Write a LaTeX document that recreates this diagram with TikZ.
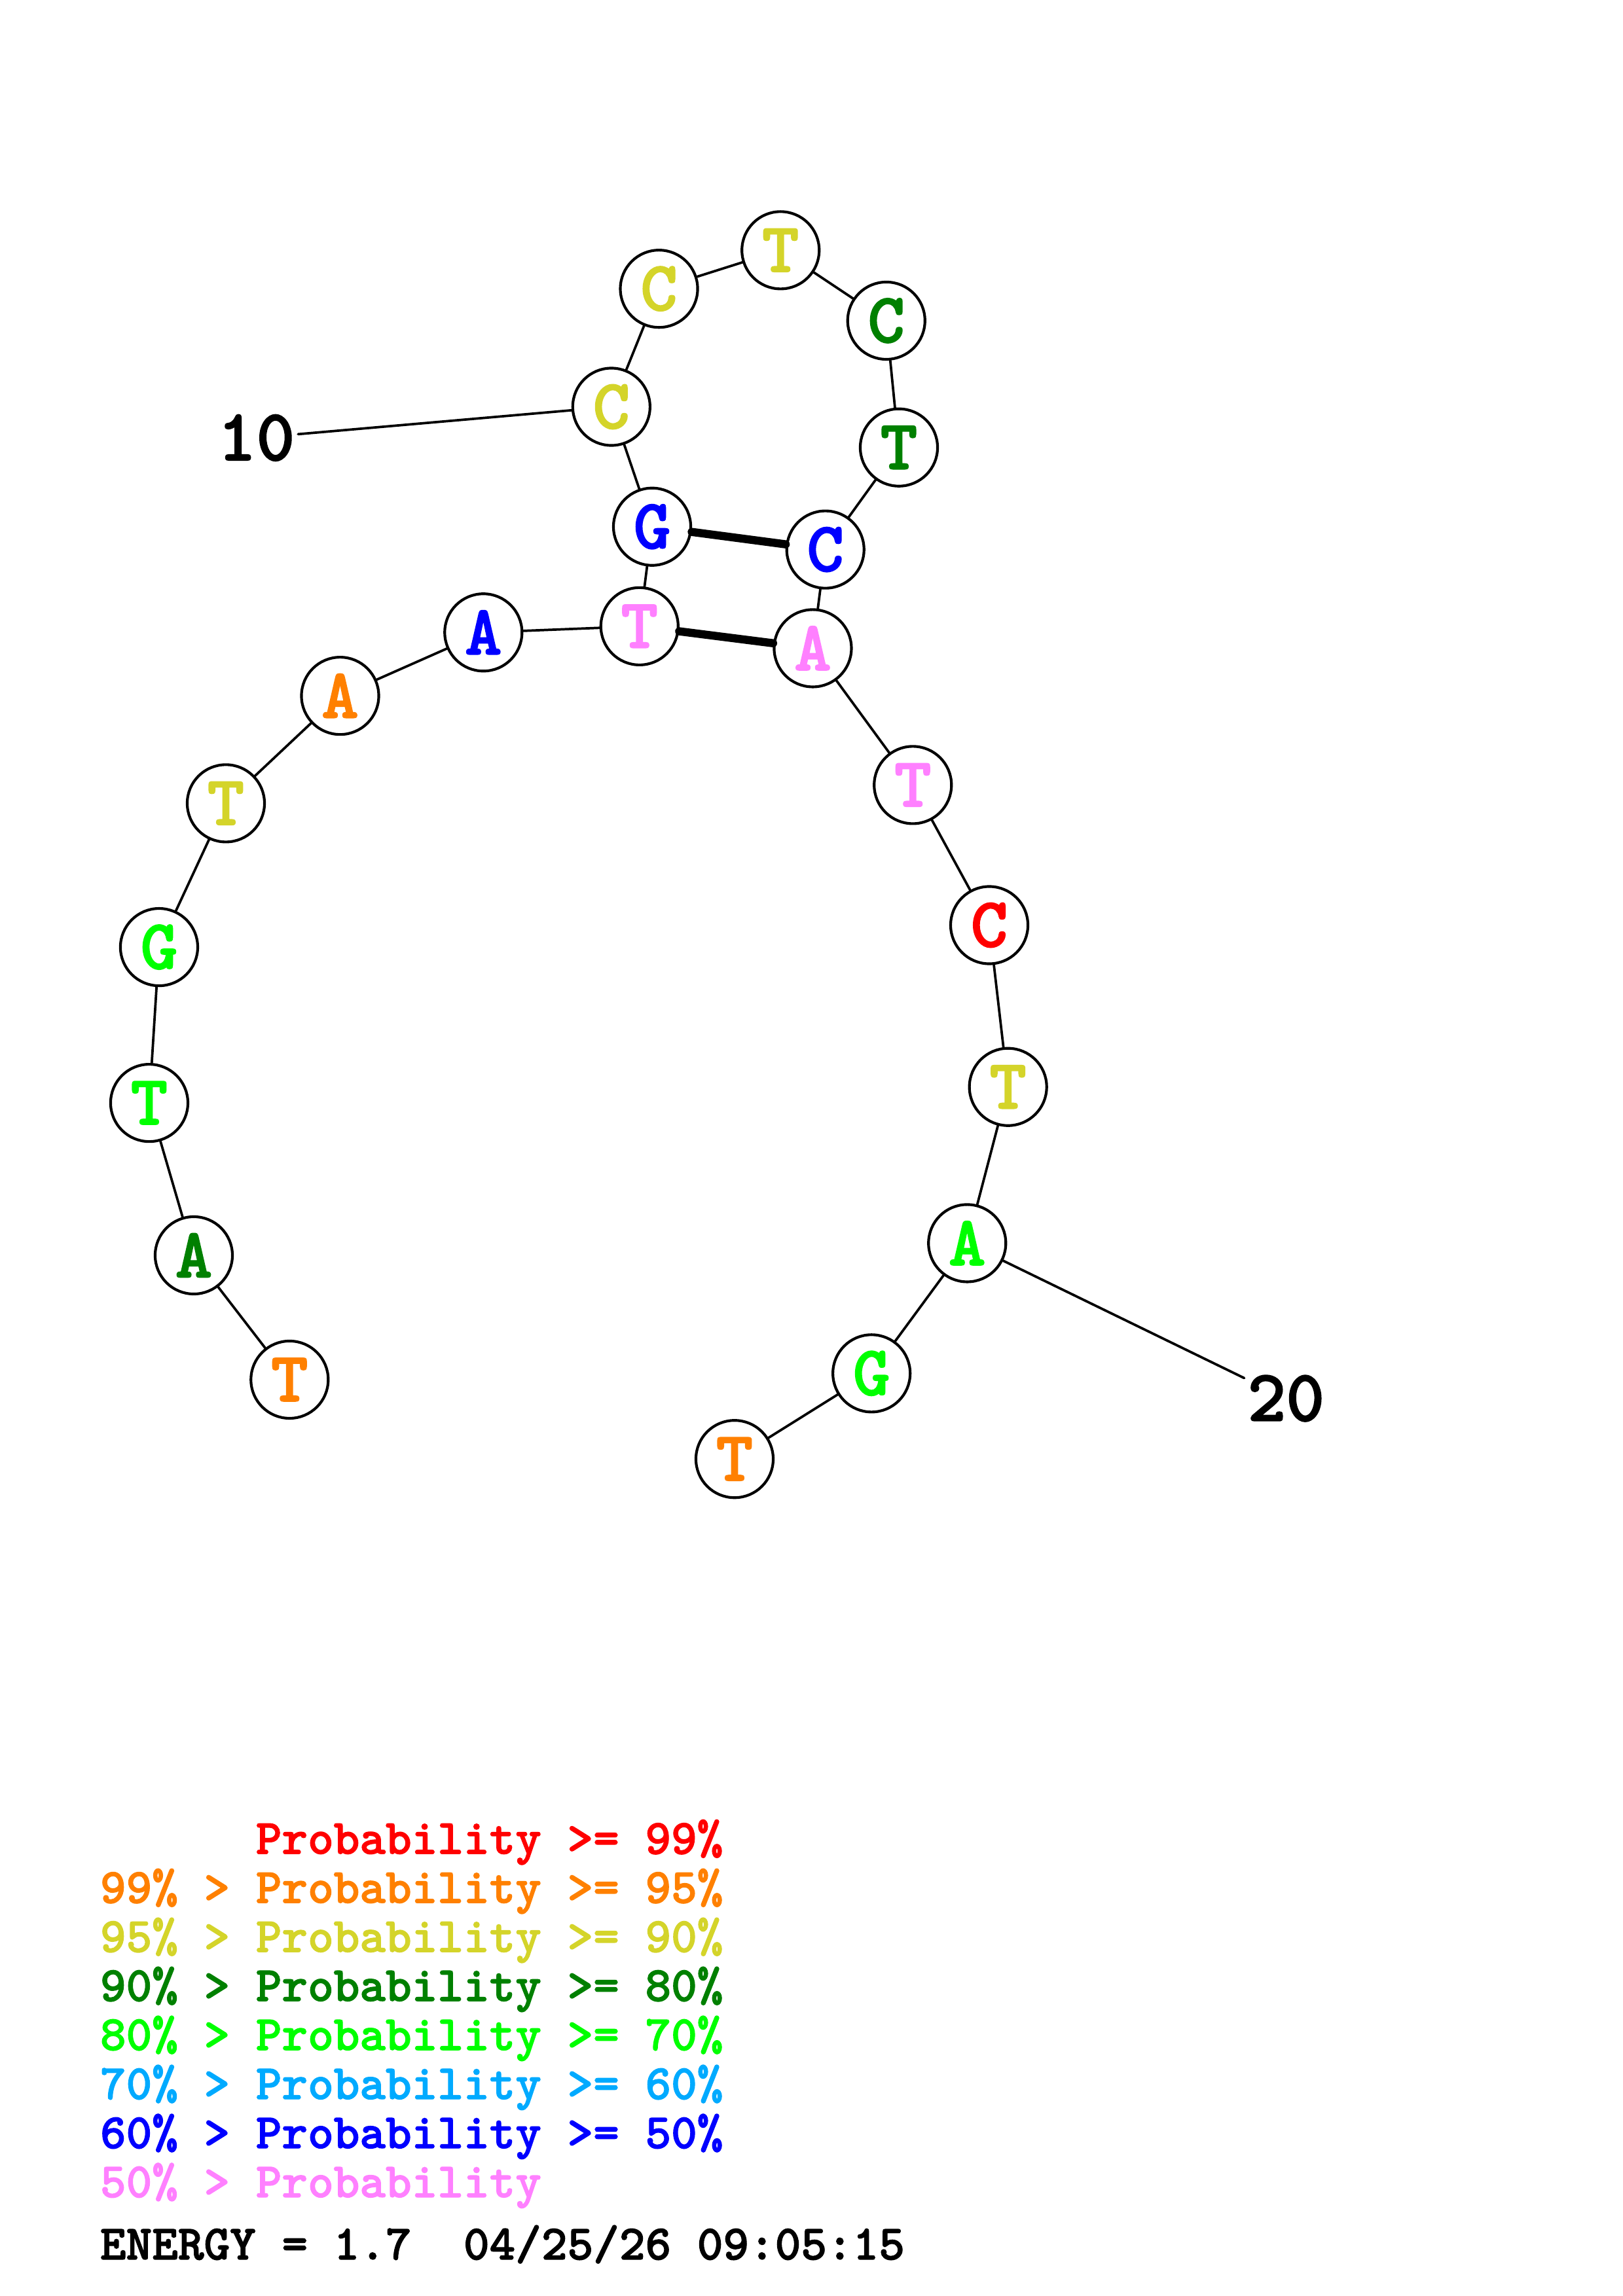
\documentclass[tikz,border=0pt]{standalone}
\usepackage{fontspec}
\usepackage{tikz}
\newfontfamily\heavytt{lmmonolt10-bold}[Extension=.otf,FakeBold=1.6]
\definecolor{p99}{RGB}{255,0,0}
\definecolor{p95}{RGB}{255,128,0}
\definecolor{p90}{RGB}{212,212,42}
\definecolor{p80}{RGB}{0,128,0}
\definecolor{p70}{RGB}{0,255,0}
\definecolor{p60}{RGB}{0,170,255}
\definecolor{p50}{RGB}{0,0,255}
\definecolor{plow}{RGB}{255,128,255}
\newcommand{\basefont}{\heavytt\fontsize{26}{26}\selectfont}
\newcommand{\legfont}{\heavytt\fontsize{18.2}{18.2}\selectfont}
\tikzset{
  base/.style={circle,draw,line width=1pt,fill=white,minimum size=1cm,inner sep=0pt,font=\basefont},
  bond/.style={line width=0.9pt},
  pair/.style={line width=3pt},
  num/.style={inner sep=1pt,font=\heavytt\fontsize{27}{27}\selectfont},
  leg/.style={anchor=base west,inner sep=0pt,font=\legfont}
}

\begin{document}
\begin{tikzpicture}[line cap=round,line join=round,x=0.018953cm,y=-0.018953cm]
\useasboundingbox (0,0) rectangle (1108,1568);
\foreach \n/\l/\c/\px/\py in {1/T/p95/197.7/942.2, 2/A/p80/132.3/857.3, 3/T/p70/101.9/753.2,
  4/G/p70/108.6/646.8, 5/T/p90/154.2/548.6, 6/A/p95/232.2/475.2, 7/A/p50/330.0/431.9,
  8/T/plow/436.6/427.7, 9/G/p50/445.2/359.7, 10/C/p90/417.4/277.8, 11/C/p90/449.9/197.2,
  12/T/p90/532.9/170.9, 13/C/p80/605.1/219.0, 14/T/p80/613.7/305.6, 15/C/p50/563.5/375.3,
  16/A/plow/554.9/442.7, 17/T/plow/623.2/536.1, 18/C/p99/675.4/631.8, 19/T/p90/688.2/742.3,
  20/A/p70/660.3/849.0, 21/G/p70/595.0/937.9, 22/T/p95/501.5/996.4}
  \node[base,text=\c] (b\n) at (\px,\py) {\l};
\foreach \i [count=\j from 2] in {1,...,21}
  \draw[bond] (b\i) -- (b\j);
\draw[pair] (b9) -- (b15);
\draw[pair] (b8) -- (b16);
\node[num] (n10) at (175,299) {10};
\node[num] (n20) at (878,955) {20};
\draw[bond] (b10) -- (n10);
\draw[bond] (b20) -- (n20);
%legend
\node[leg,text=p99] (lg1) at (68,1266) {\phantom{99\% > }Probability >= 99\%};
\node[leg,text=p95] (lg2) at (68,1299.5) {99\% > Probability >= 95\%};
\node[leg,text=p90] (lg3) at (68,1333) {95\% > Probability >= 90\%};
\node[leg,text=p80] (lg4) at (68,1366.5) {90\% > Probability >= 80\%};
\node[leg,text=p70] (lg5) at (68,1400) {80\% > Probability >= 70\%};
\node[leg,text=p60] (lg6) at (68,1433.5) {70\% > Probability >= 60\%};
\node[leg,text=p50] (lg7) at (68,1467) {60\% > Probability >= 50\%};
\node[leg,text=plow] (lg8) at (68,1500.5) {50\% > Probability};
\node[leg] (energy) at (68,1543) {ENERGY = 1.7\ \ 04/25/26 09:05:15};
\end{tikzpicture}
\end{document}
